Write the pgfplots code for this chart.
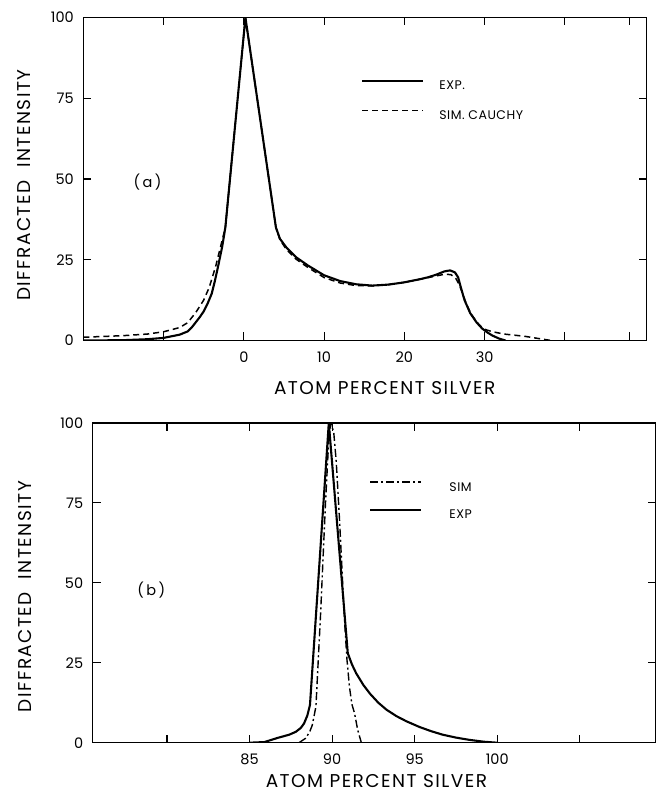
\documentclass[border=0pt]{standalone}
\usepackage{fontspec}
\setmainfont{Poppins}
\usepackage{pgfplots}
\pgfplotsset{compat=1.18}
\newcommand{\lbl}{\fontsize{18.5}{21}\selectfont\addfontfeature{LetterSpace=8}}
\newcommand{\tck}{\fontsize{14.5}{17}\selectfont}
\begin{document}
\begin{tikzpicture}
\useasboundingbox (0pt,0pt) rectangle (658pt,795pt);
\pgfplotsset{
  myax/.style={
    scale only axis, anchor=south west,
    axis line style={line width=1.1pt},
    tick align=inside,
    tick pos=both,
    major tick length=8pt,
    every tick/.style={black, line width=1.1pt},
    ymin=0, ymax=100, ytick={0,25,50,75,100},
    yticklabels={0,25,50,75,100},
    yticklabel style={font=\tck, xshift=-6pt},
    xticklabel style={font=\tck, yshift=-8pt},
    label style={font=\lbl, inner sep=0pt, text depth=0pt},
    legend cell align=left,
    legend style={draw=none, fill=none, font=\fontsize{12.5}{14}\selectfont\addfontfeature{LetterSpace=4},
      anchor=north west, inner sep=0pt, nodes={inner sep=0pt, text height=9pt, text depth=0pt}},
  },
  expl/.style={black, line width=2.1pt, line join=round},
}
% ---------- panel (a)
\begin{axis}[myax, at={(83.3pt,454.5pt)}, width=563.4pt, height=323pt,
  xmin=-20, xmax=50.2,
  xtick={-10,0,10,20,30,40,48}, xticklabels={,0,10,20,30,,},
  xlabel={ATOM PERCENT SILVER},
  ylabel={DIFFRACTED\ \ INTENSITY},
  xlabel style={at={(axis description cs:0.535,-0.147)}, anchor=center},
  ylabel style={at={(axis description cs:-0.105,0.481)}, anchor=center},
  legend style={at={(axis description cs:0.493,0.808)}, column sep=15pt, row sep=20pt},
  legend image code/.code={\draw[#1] (0pt,4.5pt) -- (61pt,4.5pt);},
]
\addplot[expl] coordinates {
(-20,0) (-15,0.1) (-12,0.4) (-10,0.8) (-8,1.8) (-7,2.8) (-6.5,4) (-6,5.6) (-5.5,7.2) (-5,9) (-4.5,11.5)
(-4,14.5) (-3.6,18.5) (-3.2,23) (-2.7,29) (-2.3,35) (0.2,100) (4,35) (4.5,31.5) (5.3,28.8) (6.5,25.8)
(8,23.2) (10,20.2) (12,18.4) (14,17.4) (16,17.0) (18,17.3) (20,18.0) (22,19.0) (23,19.6) (24,20.4)
(25,21.4) (25.7,21.7) (26.3,21.1) (26.7,19.6) (27,16.8) (27.5,12.5) (28.2,8.5) (29,5.6) (29.7,3.7)
(30.4,2.4) (31,1.5) (31.8,0.6) (32.6,0)
};
\addlegendentry{EXP.}
\addplot[black, line width=1.5pt, dash pattern=on 6pt off 4pt] coordinates {
(-20,1.0) (-15,1.5) (-12,2.0) (-10,2.7) (-8,4) (-7,5.5) (-6,8.6) (-5,12.5) (-4.3,16.5) (-3.5,23)
(-2.7,31) (-2.3,35) (0.2,100) (4,35) (4.5,31.2) (5.3,28.2) (6.5,25.2) (8,22.6) (10,19.5) (12,17.8)
(14,17.0) (16,16.9) (18,17.3) (20,18.0) (22,19.0) (24,20.0) (25,20.5) (25.8,20.4) (26.4,19.3) (26.8,17.5)
(27.2,15) (27.7,11.5) (28.3,8.3) (29,5.8) (29.6,4.2) (30.2,3.3) (31,2.7) (32.4,2.0) (35,1.3) (37,0.5) (38.3,0)
};
\addlegendentry{SIM. CAUCHY}
\node[font=\fontsize{14.5}{16}\selectfont] at (axis cs:-12,48.9) {(\,a\,)};
\end{axis}
% ---------- panel (b)
\begin{axis}[myax, at={(92.7pt,52.3pt)}, width=563pt, height=319.7pt,
  xmin=75.5, xmax=109.6,
  xtick={80,85,90,95,100,105}, xticklabels={,85,90,95,100,},
  xlabel={ATOM PERCENT SILVER},
  ylabel={DIFFRACTED\ \ INTENSITY},
  xlabel style={at={(axis description cs:0.504,-0.12)}, anchor=center},
  ylabel style={at={(axis description cs:-0.120,0.457)}, anchor=center},
  legend style={at={(axis description cs:0.491,0.818)}, column sep=27pt, row sep=17.5pt},
  legend image code/.code={\draw[#1] (0pt,4.5pt) -- (51pt,4.5pt);},
]
\addplot[black, line width=1.4pt, dash pattern=on 8pt off 3pt on 2pt off 3pt] coordinates {
(88.0,0) (88.4,1.4) (88.65,3.5) (88.8,5.5) (89.02,11.3) (89.3,40) (89.6,75) (89.8,95) (89.94,100)
(90.1,97) (90.25,88) (90.45,69.7) (90.75,38.4) (90.9,26) (91.05,17.5) (91.2,12) (91.36,9.2) (91.55,4) (91.77,0)
};
\addlegendentry{SIM}
\addplot[expl] coordinates {
(85,0) (85.9,0.2) (86.7,1.5) (87.4,2.5) (87.8,3.4) (88.1,4.6) (88.3,6) (88.5,8.5) (88.66,11.8)
(89.8,100) (90.95,28) (91.2,24.5) (91.46,21.7) (91.9,18) (92.3,15.3) (92.8,12.5) (93.3,10.3)
(93.9,8.3) (94.5,6.7) (95.3,4.9) (96,3.6) (96.7,2.5) (97.5,1.6) (98.3,0.9) (99.2,0.3) (100,0)
};
\addlegendentry{EXP}
\node[font=\fontsize{14.5}{16}\selectfont] at (axis cs:79.05,47.8) {(\,b\,)};
\end{axis}
\end{tikzpicture}
\end{document}
